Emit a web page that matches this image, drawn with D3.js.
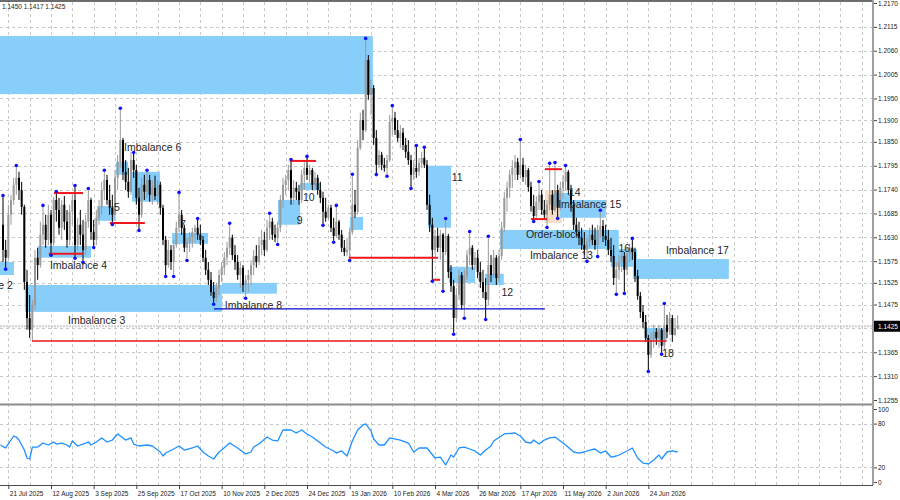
<!DOCTYPE html>
<html>
<head>
<meta charset="utf-8">
<script src="https://cdn.jsdelivr.net/npm/d3@7"></script>
<style>
  body { margin: 0; background: #fff; }
  svg { display: block; }
</style>
</head>
<body>
<svg id="chart" width="900" height="500"></svg>
<script>
const svg = d3.select("#chart");

// ---- data ----
// daily candles: open, high, low, close
const candles = [
  [1.1659,1.1723,1.1573,1.1601],[1.1601,1.1624,1.1560,1.1583],[1.1583,1.1705,1.1578,1.1682],[1.1682,1.1728,1.1659,1.1716],
  [1.1716,1.1767,1.1705,1.1751],[1.1751,1.1792,1.1728,1.1767],[1.1767,1.1781,1.1716,1.1739],[1.1739,1.1758,1.1682,1.1700],
  [1.1700,1.1705,1.1509,1.1527],[1.1527,1.1555,1.1417,1.1444],[1.1444,1.1497,1.1398,1.1417],[1.1417,1.1486,1.1391,1.1474],
  [1.1474,1.1601,1.1463,1.1583],[1.1583,1.1606,1.1532,1.1566],[1.1566,1.1666,1.1560,1.1636],[1.1636,1.1700,1.1612,1.1659],
  [1.1659,1.1682,1.1606,1.1624],[1.1624,1.1705,1.1612,1.1682],[1.1682,1.1693,1.1592,1.1617],[1.1617,1.1723,1.1610,1.1716],
  [1.1716,1.1732,1.1666,1.1693],[1.1693,1.1721,1.1636,1.1652],[1.1652,1.1716,1.1624,1.1705],[1.1705,1.1725,1.1647,1.1666],
  [1.1666,1.1693,1.1606,1.1624],[1.1624,1.1705,1.1612,1.1689],[1.1689,1.1728,1.1659,1.1716],[1.1716,1.1746,1.1585,1.1612],
  [1.1612,1.1675,1.1601,1.1659],[1.1659,1.1693,1.1612,1.1636],[1.1636,1.1670,1.1576,1.1601],[1.1601,1.1682,1.1589,1.1666],
  [1.1666,1.1739,1.1652,1.1716],[1.1716,1.1721,1.1624,1.1642],[1.1642,1.1670,1.1610,1.1624],[1.1624,1.1693,1.1612,1.1675],
  [1.1675,1.1716,1.1659,1.1698],[1.1698,1.1758,1.1682,1.1739],[1.1739,1.1781,1.1716,1.1762],[1.1762,1.1774,1.1705,1.1716],
  [1.1716,1.1751,1.1682,1.1698],[1.1698,1.1728,1.1663,1.1682],[1.1682,1.1785,1.1675,1.1767],[1.1767,1.1820,1.1739,1.1804],
  [1.1804,1.1924,1.1790,1.1854],[1.1854,1.1859,1.1762,1.1781],[1.1781,1.1808,1.1739,1.1758],[1.1758,1.1790,1.1721,1.1735],
  [1.1735,1.1827,1.1728,1.1808],[1.1808,1.1822,1.1767,1.1785],[1.1785,1.1797,1.1705,1.1721],[1.1721,1.1744,1.1649,1.1682],
  [1.1682,1.1767,1.1675,1.1751],[1.1751,1.1774,1.1716,1.1735],[1.1735,1.1781,1.1721,1.1762],[1.1762,1.1774,1.1712,1.1728],
  [1.1728,1.1762,1.1705,1.1744],[1.1744,1.1772,1.1716,1.1725],[1.1725,1.1762,1.1705,1.1751],[1.1751,1.1758,1.1682,1.1698],
  [1.1698,1.1705,1.1612,1.1624],[1.1624,1.1633,1.1543,1.1566],[1.1566,1.1624,1.1560,1.1601],[1.1601,1.1612,1.1555,1.1573],
  [1.1573,1.1624,1.1543,1.1612],[1.1612,1.1666,1.1606,1.1652],[1.1652,1.1730,1.1642,1.1682],[1.1682,1.1693,1.1636,1.1652],
  [1.1652,1.1659,1.1596,1.1606],[1.1606,1.1629,1.1580,1.1619],[1.1619,1.1642,1.1596,1.1629],[1.1629,1.1652,1.1606,1.1642],
  [1.1642,1.1659,1.1619,1.1652],[1.1652,1.1670,1.1624,1.1636],[1.1636,1.1659,1.1612,1.1624],[1.1624,1.1633,1.1573,1.1583],
  [1.1583,1.1601,1.1543,1.1555],[1.1555,1.1573,1.1520,1.1532],[1.1532,1.1550,1.1495,1.1504],[1.1504,1.1527,1.1479,1.1490],
  [1.1490,1.1525,1.1481,1.1513],[1.1513,1.1555,1.1497,1.1543],[1.1543,1.1573,1.1527,1.1560],[1.1560,1.1596,1.1543,1.1583],
  [1.1583,1.1619,1.1566,1.1606],[1.1606,1.1659,1.1589,1.1629],[1.1629,1.1636,1.1578,1.1589],[1.1589,1.1612,1.1555,1.1573],
  [1.1573,1.1589,1.1532,1.1543],[1.1543,1.1573,1.1513,1.1560],[1.1560,1.1566,1.1504,1.1520],[1.1520,1.1543,1.1493,1.1532],
  [1.1532,1.1555,1.1504,1.1543],[1.1543,1.1578,1.1520,1.1566],[1.1566,1.1601,1.1543,1.1587],[1.1587,1.1612,1.1560,1.1573],
  [1.1573,1.1629,1.1566,1.1612],[1.1612,1.1647,1.1589,1.1624],[1.1624,1.1642,1.1587,1.1601],[1.1601,1.1670,1.1596,1.1652],
  [1.1652,1.1682,1.1624,1.1666],[1.1666,1.1675,1.1624,1.1636],[1.1636,1.1659,1.1619,1.1629],[1.1629,1.1666,1.1617,1.1652],
  [1.1652,1.1728,1.1642,1.1716],[1.1716,1.1767,1.1698,1.1751],[1.1751,1.1774,1.1728,1.1762],[1.1762,1.1797,1.1739,1.1785],
  [1.1785,1.1806,1.1705,1.1721],[1.1721,1.1762,1.1705,1.1744],[1.1744,1.1758,1.1716,1.1735],[1.1735,1.1751,1.1705,1.1716],
  [1.1716,1.1785,1.1709,1.1774],[1.1774,1.1804,1.1739,1.1790],[1.1790,1.1813,1.1762,1.1774],[1.1774,1.1797,1.1755,1.1785],
  [1.1785,1.1790,1.1739,1.1751],[1.1751,1.1781,1.1739,1.1767],[1.1767,1.1774,1.1728,1.1739],[1.1739,1.1758,1.1709,1.1721],
  [1.1721,1.1735,1.1661,1.1689],[1.1689,1.1721,1.1666,1.1675],[1.1675,1.1705,1.1670,1.1698],[1.1698,1.1705,1.1642,1.1652],
  [1.1652,1.1675,1.1622,1.1633],[1.1633,1.1700,1.1629,1.1666],[1.1666,1.1670,1.1624,1.1636],[1.1636,1.1647,1.1596,1.1606],
  [1.1606,1.1624,1.1587,1.1596],[1.1596,1.1629,1.1587,1.1601],[1.1601,1.1652,1.1580,1.1642],[1.1642,1.1772,1.1636,1.1705],
  [1.1705,1.1739,1.1675,1.1689],[1.1689,1.1854,1.1682,1.1836],[1.1836,1.1917,1.1831,1.1900],[1.1900,1.1924,1.1854,1.1877],
  [1.1877,1.2085,1.1873,1.2039],[1.2039,1.2050,1.1947,1.1958],[1.1958,1.1993,1.1912,1.1974],[1.1974,1.1981,1.1843,1.1859],
  [1.1859,1.1877,1.1778,1.1797],[1.1797,1.1831,1.1790,1.1820],[1.1820,1.1827,1.1785,1.1797],[1.1797,1.1813,1.1781,1.1790],
  [1.1790,1.1820,1.1774,1.1808],[1.1808,1.1912,1.1804,1.1896],[1.1896,1.1930,1.1866,1.1905],[1.1905,1.1919,1.1866,1.1877],
  [1.1877,1.1900,1.1850,1.1859],[1.1859,1.1889,1.1836,1.1871],[1.1871,1.1882,1.1831,1.1843],[1.1843,1.1859,1.1813,1.1827],
  [1.1827,1.1854,1.1797,1.1808],[1.1808,1.1820,1.1746,1.1774],[1.1774,1.1808,1.1762,1.1790],[1.1790,1.1838,1.1767,1.1781],
  [1.1781,1.1813,1.1772,1.1801],[1.1801,1.1827,1.1790,1.1813],[1.1813,1.1834,1.1790,1.1797],[1.1797,1.1808,1.1693,1.1705],
  [1.1705,1.1728,1.1642,1.1659],[1.1659,1.1675,1.1532,1.1601],[1.1601,1.1647,1.1589,1.1633],[1.1633,1.1652,1.1596,1.1606],
  [1.1606,1.1647,1.1578,1.1636],[1.1636,1.1640,1.1509,1.1596],[1.1596,1.1670,1.1589,1.1633],[1.1633,1.1638,1.1536,1.1550],
  [1.1550,1.1566,1.1504,1.1518],[1.1518,1.1532,1.1410,1.1444],[1.1444,1.1513,1.1435,1.1497],[1.1497,1.1555,1.1486,1.1543],
  [1.1543,1.1550,1.1463,1.1474],[1.1474,1.1555,1.1447,1.1541],[1.1541,1.1601,1.1532,1.1589],[1.1589,1.1640,1.1566,1.1606],
  [1.1606,1.1612,1.1555,1.1566],[1.1566,1.1596,1.1555,1.1583],[1.1583,1.1601,1.1536,1.1550],[1.1550,1.1573,1.1513,1.1527],
  [1.1527,1.1555,1.1490,1.1504],[1.1504,1.1536,1.1444,1.1486],[1.1486,1.1629,1.1474,1.1566],[1.1566,1.1589,1.1527,1.1543],
  [1.1543,1.1601,1.1536,1.1583],[1.1583,1.1589,1.1520,1.1536],[1.1536,1.1601,1.1527,1.1587],[1.1587,1.1666,1.1578,1.1652],
  [1.1652,1.1735,1.1642,1.1721],[1.1721,1.1758,1.1689,1.1744],[1.1744,1.1785,1.1721,1.1774],[1.1774,1.1808,1.1744,1.1790],
  [1.1790,1.1820,1.1762,1.1804],[1.1804,1.1813,1.1762,1.1774],[1.1774,1.1852,1.1767,1.1797],[1.1797,1.1813,1.1758,1.1769],
  [1.1769,1.1797,1.1751,1.1785],[1.1785,1.1790,1.1735,1.1746],[1.1746,1.1758,1.1689,1.1702],[1.1702,1.1728,1.1670,1.1679],
  [1.1679,1.1725,1.1675,1.1712],[1.1712,1.1755,1.1693,1.1728],[1.1728,1.1739,1.1682,1.1693],[1.1693,1.1716,1.1670,1.1682],
  [1.1682,1.1716,1.1656,1.1705],[1.1705,1.1797,1.1693,1.1728],[1.1728,1.1739,1.1682,1.1693],[1.1693,1.1799,1.1689,1.1739],
  [1.1739,1.1751,1.1677,1.1698],[1.1698,1.1758,1.1693,1.1744],[1.1744,1.1774,1.1721,1.1758],[1.1758,1.1792,1.1739,1.1781],
  [1.1781,1.1785,1.1728,1.1739],[1.1739,1.1751,1.1689,1.1705],[1.1705,1.1716,1.1647,1.1659],[1.1659,1.1675,1.1633,1.1642],
  [1.1642,1.1666,1.1612,1.1629],[1.1629,1.1652,1.1601,1.1612],[1.1612,1.1642,1.1589,1.1601],[1.1601,1.1629,1.1578,1.1619],
  [1.1619,1.1652,1.1606,1.1636],[1.1636,1.1659,1.1612,1.1624],[1.1624,1.1652,1.1601,1.1612],[1.1612,1.1659,1.1589,1.1647],
  [1.1647,1.1689,1.1629,1.1656],[1.1656,1.1670,1.1619,1.1633],[1.1633,1.1659,1.1610,1.1624],[1.1624,1.1647,1.1589,1.1601],
  [1.1601,1.1629,1.1573,1.1587],[1.1587,1.1612,1.1520,1.1536],[1.1536,1.1573,1.1502,1.1555],[1.1555,1.1589,1.1532,1.1573],
  [1.1573,1.1601,1.1550,1.1587],[1.1587,1.1596,1.1504,1.1555],[1.1555,1.1606,1.1543,1.1592],[1.1592,1.1615,1.1573,1.1606],
  [1.1606,1.1624,1.1578,1.1596],[1.1596,1.1606,1.1527,1.1541],[1.1541,1.1555,1.1486,1.1495],[1.1495,1.1504,1.1444,1.1458],
  [1.1458,1.1474,1.1421,1.1435],[1.1435,1.1451,1.1389,1.1398],[1.1398,1.1405,1.1324,1.1359],[1.1359,1.1412,1.1352,1.1394],
  [1.1394,1.1428,1.1375,1.1412],[1.1412,1.1421,1.1382,1.1398],[1.1398,1.1428,1.1375,1.1417],[1.1417,1.1421,1.1364,1.1380],
  [1.1380,1.1474,1.1371,1.1428],[1.1428,1.1451,1.1398,1.1412],[1.1412,1.1458,1.1405,1.1444],[1.1444,1.1451,1.1389,1.1405],
  [1.1405,1.1444,1.1403,1.1421],[1.1421,1.1450,1.1417,1.1425]
];

// bars carrying a fractal dot
const fractalHighs = [0,5,15,20,27,32,38,44,49,54,66,73,85,100,108,114,125,131,136,146,155,158,166,175,182,194,201,205,207,211,224,236,248];
const fractalLows = [1,18,27,30,34,41,51,61,64,69,79,91,103,120,124,130,140,144,153,161,165,169,173,181,199,204,208,219,223,230,233,242,247];

// zones: from bar, to bar, upper price, lower price, kind
const zones = [
  [-2, 138.7, 1.2094, 1.1960, "imb"],
  [-2, 4.1, 1.1573, 1.1543, "imb"],
  [8.2, 82.1, 1.1520, 1.1458, "imb"],
  [13.1, 33, 1.1610, 1.1583, "imb"],
  [35.2, 42, 1.1702, 1.1668, "imb"],
  [42.4, 46.9, 1.1804, 1.1774, "imb"],
  [48.4, 58.9, 1.1781, 1.1712, "imb"],
  [63.4, 76.9, 1.1640, 1.1615, "imb"],
  [82.1, 102.7, 1.1525, 1.1500, "imb"],
  [103.1, 111.4, 1.1716, 1.1659, "imb"],
  [111.4, 119.2, 1.1755, 1.1739, "imb"],
  [130.1, 135, 1.1677, 1.1647, "imb"],
  [159.4, 168, 1.1795, 1.1652, "imb"],
  [167.2, 177, 1.1562, 1.1525, "imb"],
  [180.7, 187.8, 1.1546, 1.1520, "imb"],
  [186.4, 230.9, 1.1647, 1.1603, "imb"],
  [203.2, 209.6, 1.1739, 1.1663, "ob"],
  [206.2, 213.3, 1.1732, 1.1702, "imb"],
  [208.8, 226.1, 1.1716, 1.1675, "imb"],
  [227.9, 237.7, 1.1603, 1.1562, "imb"],
  [236.2, 272.2, 1.1580, 1.1534, "imb"],
  [240.7, 248.9, 1.1421, 1.1394, "imb"]
];

// horizontal levels: from bar, to bar, price, kind
const levels = [
  [10.9, 248.9, 1.1391, "red"],
  [79.1, 203.2, 1.1465, "blue"],
  [19.1, 30, 1.1732, "red2"],
  [17.2, 30, 1.1592, "red2"],
  [40.1, 53.2, 1.1663, "red2"],
  [107.6, 117.4, 1.1806, "red2"],
  [129.7, 163.1, 1.1583, "red2"],
  [161.2, 163.9, 1.1532, "red2"],
  [198, 204, 1.1672, "red2"],
  [203.2, 209.6, 1.1787, "red2"]
];

// zone captions: text, bar, price
const captions = [
  ["Imbalance 2", 3.7, 1.1520, "end"],
  ["Imbalance 3", 24.4, 1.1440],
  ["Imbalance 4", 17.6, 1.1566],
  ["5", 41.6, 1.1700],
  ["Imbalance 6", 45.4, 1.1838],
  ["7", 66.4, 1.1661],
  ["Imbalance 8", 83.2, 1.1474],
  ["9", 110.2, 1.1670],
  ["10", 112.5, 1.1723],
  ["11", 168.3, 1.1769],
  ["12", 186.9, 1.1504],
  ["Order-block", 196.1, 1.1638],
  ["Imbalance 13", 197.6, 1.1589],
  ["14", 212.2, 1.1735],
  ["Imbalance 15", 208.2, 1.1707],
  ["16", 230.8, 1.1606],
  ["Imbalance 17", 248.6, 1.1601],
  ["18", 247.2, 1.1364]
];

const priceTicks = [1.2170,1.2115,1.2060,1.2005,1.1950,1.1900,1.1850,1.1795,1.1740,1.1685,1.1630,1.1575,1.1525,1.1475,1.1365,1.1310,1.1255];
const gridPrices = [1.2115,1.2060,1.2005,1.1950,1.1900,1.1850,1.1795,1.1740,1.1685,1.1630,1.1575,1.1525,1.1475,1.1420,1.1365,1.1310];
const dateBars = [2,18,34,50,66,82,98,114,130,146,162,178,194,210,226,242];
const dateLabels = ["21 Jul 2025","12 Aug 2025","3 Sep 2025","25 Sep 2025","17 Oct 2025","10 Nov 2025","2 Dec 2025","24 Dec 2025",
  "19 Jan 2026","10 Feb 2026","4 Mar 2026","26 Mar 2026","17 Apr 2026","11 May 2026","2 Jun 2026","24 Jun 2026"];

const rsiBars = [-1,1,4,5,6,8,9,10,11,13,15,17,19,20,22,24,25,26,28,30,32,33,35,37,39,41,43,45,46,48,49,51,54,56,59,60,61,64,66,68,71,73,75,77,79,81,82,85,88,91,93,94,96,99,101,103,105,108,110,112,114,116,119,121,124,125,127,129,131,133,135,136,138,139,141,143,145,149,152,154,156,159,162,164,166,168,169,171,173,175,177,179,181,183,184,188,192,194,196,198,199,201,203,205,207,211,214,216,218,220,222,224,226,228,230,231,234,236,238,240,242,244,246,247,249,251,253];
const rsiValues = [50.7,46.6,63,61.6,57.5,43.8,32.9,31.5,47.9,47.9,53.4,50.7,54.8,52,53.4,50.7,47.9,56.2,49.3,52,54.8,50.7,54.8,60.3,54.8,57.5,65.8,60.3,57.5,60.3,52,49.3,50.7,49.3,41.1,35.6,39.7,45.2,49.3,43.8,46.6,49.3,41.1,35.6,31.5,41.1,43.8,53.4,46.6,38.4,41.1,47.9,52,61.6,57.5,56.2,71.2,71.2,67.1,71.2,65.8,61.6,53.4,47.9,42.5,39.7,42.5,35.6,56.2,71.2,78.1,79.5,69.9,58.9,50.7,50.7,60.3,57.5,53.4,41.1,46.6,46.6,32.9,34.2,23.3,37,34.2,46.6,47.9,45.2,42.5,37,43.8,49.3,56.2,65.8,67.1,63,54.8,53.4,57.5,52,57.5,60.3,61.6,50.7,41.1,39.7,41.1,43.8,45.2,39.7,42.5,34.2,35.6,37,42.5,46.6,32.9,26,24.7,30.1,37,31.5,41.1,42.5,41.1];
const rsiTicks = [100, 80, 20, 0];

const lastHigh = 1.1450, lastLow = 1.1417, lastClose = 1.1425;

// ---- layout ----
const axisX = 873;
const mainTop = 2, mainBottom = 404;
const rsiTop = 406, rsiBottom = 485;

const x = d3.scaleLinear().domain([0, 240]).range([3, 643]);
const y = d3.scaleLinear().domain([1.1255, 1.2170]).range([400, 3]);
const yR = d3.scaleLinear().domain([0, 100]).range([482, 409]);

const gridColor = "#c8c8c8";
const bullColor = "#9a9a9a";
const bearColor = "#000000";
const zoneColor = { imb: "#87cefa", ob: "#f7dfc6" };
const levelStyle = {
  red: { stroke: "#e8141e", w: 1.3 },
  red2: { stroke: "#f0161e", w: 2 },
  blue: { stroke: "#0a0ad0", w: 1.3 }
};
const smallFont = "Liberation Sans, Arial, sans-serif";

svg.append("defs").append("clipPath").attr("id", "clipMain")
  .append("rect").attr("x", 0).attr("y", mainTop).attr("width", axisX).attr("height", mainBottom - mainTop);
svg.select("defs").append("clipPath").attr("id", "clipRsi")
  .append("rect").attr("x", 0).attr("y", rsiTop).attr("width", axisX).attr("height", rsiBottom - rsiTop);

// grid
const gridBars = d3.range(2, 330, 8).filter(b => x(b) < axisX);
const grid = svg.append("g").attr("stroke", gridColor).attr("stroke-dasharray", "3,3").attr("stroke-width", 1);
grid.selectAll("line.v").data(gridBars).join("line")
  .attr("x1", d => Math.round(x(d)) + 0.5).attr("x2", d => Math.round(x(d)) + 0.5)
  .attr("y1", mainTop).attr("y2", rsiBottom);
grid.selectAll("line.h").data(gridPrices).join("line")
  .attr("x1", 0).attr("x2", axisX)
  .attr("y1", d => Math.round(y(d)) + 0.5).attr("y2", d => Math.round(y(d)) + 0.5);
grid.selectAll("line.r").data([80, 20]).join("line")
  .attr("x1", 0).attr("x2", axisX)
  .attr("y1", d => Math.round(yR(d)) + 0.5).attr("y2", d => Math.round(yR(d)) + 0.5);

const main = svg.append("g").attr("clip-path", "url(#clipMain)");

// zones
main.append("g").selectAll("rect").data(zones).join("rect")
  .attr("x", d => x(d[0])).attr("width", d => x(d[1]) - x(d[0]))
  .attr("y", d => y(d[2])).attr("height", d => y(d[3]) - y(d[2]))
  .attr("fill", d => zoneColor[d[4]]);

// current price line
main.append("line")
  .attr("x1", 0).attr("x2", axisX)
  .attr("y1", y(lastClose)).attr("y2", y(lastClose))
  .attr("stroke", "#cfcfcf").attr("stroke-width", 2).attr("stroke-dasharray", "2,1");

// candles
const cg = main.append("g");
const isUp = d => d[3] >= d[0];
cg.selectAll("line").data(candles).join("line")
  .attr("x1", (d, i) => x(i)).attr("x2", (d, i) => x(i))
  .attr("y1", d => y(d[1])).attr("y2", d => y(d[2]))
  .attr("stroke", d => isUp(d) ? bullColor : bearColor)
  .attr("stroke-width", 1);
cg.selectAll("rect").data(candles).join("rect")
  .attr("x", (d, i) => x(i) - 1).attr("width", 2)
  .attr("y", d => y(Math.max(d[0], d[3])))
  .attr("height", d => Math.max(1, Math.abs(y(d[0]) - y(d[3]))))
  .attr("fill", d => isUp(d) ? bullColor : bearColor);

// levels
main.append("g").selectAll("line").data(levels).join("line")
  .attr("x1", d => x(d[0])).attr("x2", d => x(d[1]))
  .attr("y1", d => y(d[2])).attr("y2", d => y(d[2]))
  .attr("stroke", d => levelStyle[d[3]].stroke)
  .attr("stroke-width", d => levelStyle[d[3]].w);

// fractal dots
main.append("g").selectAll("circle.h").data(fractalHighs).join("circle")
  .attr("cx", d => x(d)).attr("cy", d => y(candles[d][1]) - 1.5)
  .attr("r", 1.8).attr("fill", "#1010ff");
main.append("g").selectAll("circle.l").data(fractalLows).join("circle")
  .attr("cx", d => x(d)).attr("cy", d => y(candles[d][2]) + 1.5)
  .attr("r", 1.8).attr("fill", "#1010ff");

// captions
main.append("g").selectAll("text").data(captions).join("text")
  .attr("x", d => x(d[1])).attr("y", d => y(d[2]) + 3.8)
  .attr("text-anchor", d => d[3] || "start")
  .attr("font-family", smallFont).attr("font-size", 10.5)
  .attr("fill", "#262626")
  .text(d => d[0]);

// ---- RSI panel ----
const rsi = svg.append("g").attr("clip-path", "url(#clipRsi)");
rsi.append("path")
  .datum(d3.zip(rsiBars, rsiValues))
  .attr("fill", "none").attr("stroke", "#1e90ff").attr("stroke-width", 1.3)
  .attr("stroke-linejoin", "round")
  .attr("d", d3.line().x(d => x(d[0])).y(d => yR(d[1])));

// ---- frame ----
svg.append("line").attr("x1", 0).attr("x2", axisX).attr("y1", 1).attr("y2", 1)
  .attr("stroke", "#3c3c3c").attr("stroke-width", 1.5);
svg.append("line").attr("x1", 0).attr("x2", axisX).attr("y1", 404.5).attr("y2", 404.5)
  .attr("stroke", "#8c8c8c").attr("stroke-width", 2);
svg.append("line").attr("x1", 0).attr("x2", axisX).attr("y1", rsiBottom + 0.5).attr("y2", rsiBottom + 0.5)
  .attr("stroke", "#4a4a4a").attr("stroke-width", 1);
svg.append("line").attr("x1", axisX).attr("x2", axisX).attr("y1", 0).attr("y2", rsiBottom)
  .attr("stroke", "#a0a0a0").attr("stroke-width", 2);

// price axis
const yAxis = d3.axisRight(y).tickValues(priceTicks).tickSize(3).tickFormat(d3.format(".4f"));
const yAxisG = svg.append("g").attr("transform", `translate(${axisX + 1},0)`).call(yAxis);
yAxisG.select(".domain").remove();
yAxisG.selectAll("text").attr("font-family", smallFont).attr("font-size", 6.5).attr("fill", "#222").attr("x", 4);
yAxisG.selectAll("line").attr("stroke", "#444");

// rsi axis
const rAxis = d3.axisRight(yR).tickValues(rsiTicks).tickSize(3);
const rAxisG = svg.append("g").attr("transform", `translate(${axisX + 1},0)`).call(rAxis);
rAxisG.select(".domain").remove();
rAxisG.selectAll("text").attr("font-family", smallFont).attr("font-size", 6.5).attr("fill", "#222").attr("x", 4);
rAxisG.selectAll("line").attr("stroke", "#444");

// last price marker
svg.append("rect").attr("x", axisX + 1).attr("y", y(lastClose) - 5.5).attr("width", 26).attr("height", 11).attr("fill", "#000");
svg.append("text").attr("x", axisX + 5).attr("y", y(lastClose) + 2.3)
  .attr("font-family", smallFont).attr("font-size", 6.5).attr("fill", "#fff")
  .text(d3.format(".4f")(lastClose));

// time axis
const xAxis = d3.axisBottom(x).tickValues(dateBars).tickSize(3).tickFormat((d, i) => dateLabels[i]);
const xAxisG = svg.append("g").attr("transform", `translate(0,${rsiBottom + 1})`).call(xAxis);
xAxisG.select(".domain").remove();
xAxisG.selectAll("line").attr("stroke", "#444");
xAxisG.selectAll("text").attr("font-family", smallFont).attr("font-size", 6.5).attr("fill", "#222")
  .attr("text-anchor", "start").attr("dx", 1).attr("y", 5);

// header quote
svg.append("text").attr("x", 2).attr("y", 9)
  .attr("font-family", smallFont).attr("font-size", 6.5).attr("fill", "#222")
  .text([lastHigh, lastLow, lastClose].map(d3.format(".4f")).join(" "));
</script>
</body>
</html>
